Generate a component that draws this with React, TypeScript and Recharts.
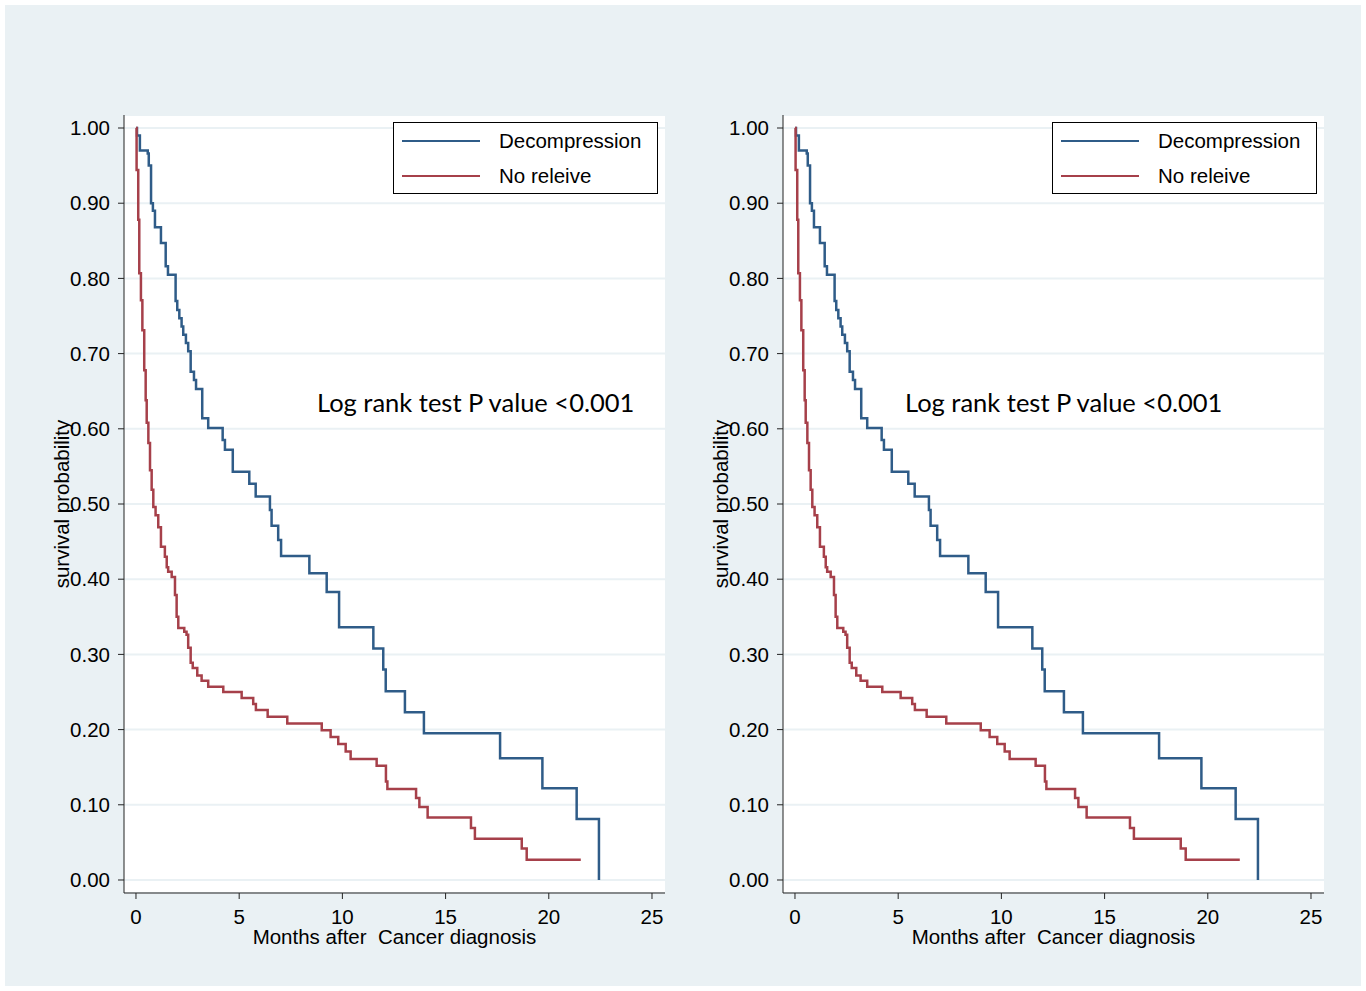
import React from 'react';
import { LineChart, Line, XAxis, YAxis, CartesianGrid, Legend } from 'recharts';

// Kaplan-Meier steps (months, survival after the step)
const decompTimes = [0, 0.05, 0.19, 0.57, 0.62, 0.73, 0.82, 0.92, 1.21, 1.44, 1.55, 1.92, 2.0, 2.1, 2.21, 2.29, 2.42, 2.53, 2.65, 2.81, 2.91, 3.21, 3.5, 4.2, 4.31, 4.69, 5.49, 5.8, 6.49, 6.57, 6.89, 7.03, 8.4, 9.24, 9.84, 11.5, 11.98, 12.1, 13.03, 13.95, 17.64, 19.69, 21.35, 22.43];
const decompSurv = [1.0, 0.99, 0.97, 0.966, 0.95, 0.9, 0.89, 0.868, 0.847, 0.816, 0.805, 0.77, 0.758, 0.747, 0.736, 0.725, 0.714, 0.703, 0.676, 0.665, 0.653, 0.614, 0.601, 0.585, 0.572, 0.543, 0.527, 0.51, 0.492, 0.471, 0.452, 0.431, 0.408, 0.383, 0.336, 0.308, 0.28, 0.251, 0.223, 0.195, 0.162, 0.122, 0.081, 0.0];

const noRelTimes = [0, 0.03, 0.11, 0.16, 0.24, 0.31, 0.4, 0.47, 0.52, 0.6, 0.68, 0.76, 0.84, 0.95, 1.08, 1.21, 1.4, 1.49, 1.56, 1.73, 1.89, 1.97, 2.05, 2.34, 2.45, 2.53, 2.65, 2.75, 2.97, 3.18, 3.5, 4.23, 5.12, 5.68, 5.81, 6.38, 7.33, 9.0, 9.43, 9.8, 10.16, 10.4, 11.66, 12.11, 12.18, 13.57, 13.73, 14.13, 16.23, 16.42, 18.69, 18.93, 21.55];
const noRelSurv = [1.0, 0.944, 0.878, 0.807, 0.771, 0.731, 0.678, 0.638, 0.608, 0.581, 0.545, 0.519, 0.496, 0.485, 0.469, 0.443, 0.43, 0.416, 0.41, 0.403, 0.379, 0.35, 0.335, 0.33, 0.326, 0.309, 0.289, 0.282, 0.272, 0.265, 0.257, 0.25, 0.242, 0.234, 0.226, 0.217, 0.208, 0.199, 0.19, 0.181, 0.171, 0.161, 0.152, 0.131, 0.121, 0.109, 0.097, 0.083, 0.069, 0.055, 0.042, 0.027, 0.027];

const xTicks = [0, 5, 10, 15, 20, 25];
const yTicks = [0, 0.1, 0.2, 0.3, 0.4, 0.5, 0.6, 0.7, 0.8, 0.9, 1.0];

const seriesNames = ['Decompression', 'No releive'];
const xLabel = 'Months after  Cancer diagnosis';
const yLabel = 'survival probability';
const note = 'Log rank test P value <0.001';

const BLUE = '#2f5c88';
const RED = '#a6404a';
const BG = '#eaf1f4';
const FONT = '"Liberation Sans", Arial, sans-serif';
const FS = 20.5;

const decompData = decompTimes.map((t, i) => ({ t, s: decompSurv[i] }));
const noRelData = noRelTimes.map((t, i) => ({ t, s: noRelSurv[i] }));

const renderLegend = () => (
  <div
    style={{
      width: 263,
      height: 70,
      border: '1px solid #000',
      background: '#fff',
      fontFamily: FONT,
      fontSize: FS,
      color: '#000',
      position: 'relative',
    }}
  >
    {[BLUE, RED].map((c, i) => (
      <div key={i} style={{ position: 'absolute', top: 18 + i * 35 - 12, left: 0, height: 24, width: 263 }}>
        <div style={{ position: 'absolute', left: 8, top: 11, width: 78, height: 0, borderTop: `2px solid ${c}` }} />
        <div style={{ position: 'absolute', left: 105, top: 0, lineHeight: '24px', whiteSpace: 'nowrap' }}>{seriesNames[i]}</div>
      </div>
    ))}
  </div>
);

const XLab = (props: any) => {
  const { viewBox } = props;
  return (
    <text x={viewBox.x + viewBox.width / 2} y={viewBox.y + 51} textAnchor="middle" fontFamily={FONT} fontSize={FS} fill="#000" style={{ whiteSpace: 'pre' }}>
      {xLabel}
    </text>
  );
};

const YLab = (props: any) => {
  const { viewBox } = props;
  const cx = 69;
  const cy = viewBox.y + viewBox.height / 2;
  return (
    <text x={cx} y={cy} transform={`rotate(-90 ${cx} ${cy})`} textAnchor="middle" fontFamily={FONT} fontSize={FS} fill="#000">
      {yLabel}
    </text>
  );
};

const Panel: React.FC<{ left: number; noteLeft: number }> = ({ left, noteLeft }) => (
  <div style={{ position: 'absolute', left, top: 0, width: 690, height: 991 }}>
    <LineChart width={690} height={991} margin={{ top: 115, right: 25, bottom: 58, left: 64 }}>
      <CartesianGrid vertical={false} stroke={BG} strokeWidth={2} fill="#fff" fillOpacity={1} />
      <XAxis
        type="number"
        dataKey="t"
        domain={[-0.58, 25.63]}
        allowDataOverflow
        ticks={xTicks}
        height={40}
        tickSize={6}
        tickMargin={10}
        stroke="#222"
        tick={{ fill: '#000', fontSize: FS, fontFamily: FONT }}
        label={<XLab />}
      />
      <YAxis
        type="number"
        domain={[-0.0173, 1.0173]}
        allowDataOverflow
        ticks={yTicks}
        width={60}
        tickSize={6}
        tickMargin={8}
        stroke="#222"
        tick={{ fill: '#000', fontSize: FS, fontFamily: FONT }}
        tickFormatter={(v: number) => v.toFixed(2)}
        label={<YLab />}
      />
      <Legend
        content={renderLegend}
        layout="horizontal"
        verticalAlign="middle"
        align="center"
        wrapperStyle={{ left: 393, top: 122, width: 265, height: 72, bottom: 'auto' }}
      />
      <Line data={decompData} dataKey="s" name={seriesNames[0]} type="stepAfter" stroke={BLUE} strokeWidth={2.5} dot={false} isAnimationActive={false} />
      <Line data={noRelData} dataKey="s" name={seriesNames[1]} type="stepAfter" stroke={RED} strokeWidth={2.5} dot={false} isAnimationActive={false} />
    </LineChart>
    <div style={{ position: 'absolute', left: noteLeft, top: 387, fontFamily: 'Lato, "Open Sans", sans-serif', fontSize: 25.5, lineHeight: '30px', color: '#000', whiteSpace: 'nowrap' }}>
      {note}
    </div>
  </div>
);

export default function App() {
  return (
    <div style={{ position: 'absolute', left: 0, top: 0, width: 1366, height: 991, background: '#fff' }}>
      <div style={{ position: 'absolute', left: 5, top: 5, width: 1356, height: 981, background: BG }} />
      <Panel left={0} noteLeft={317} />
      <Panel left={659} noteLeft={246} />
    </div>
  );
}
